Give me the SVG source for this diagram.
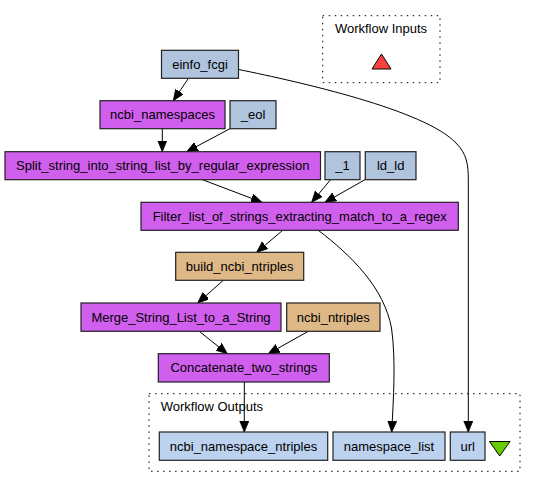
<svg xmlns="http://www.w3.org/2000/svg" width="536" height="488" viewBox="0 0 536 488">
<style>
text{font-family:"Liberation Sans",Arial,Helvetica,sans-serif;font-size:13px;fill:#000;text-anchor:middle}
.n{stroke:#222;stroke-width:1.2}
.proc{fill:#d15fee}
.const{fill:#b0c4de}
.bean{fill:#deb887}
.out{fill:#bcd2ee}
.cl{fill:none;stroke:#000;stroke-width:1;stroke-dasharray:1.5,4.5}
.e{fill:none;stroke:#000;stroke-width:1;marker-end:url(#ah)}
</style>
<defs>
<marker id="ah" markerUnits="userSpaceOnUse" markerWidth="12" markerHeight="10" refX="11" refY="4.5" orient="auto">
<path d="M0,0 L11,4.5 L0,9 z" fill="#000" stroke="#000" stroke-width="0.8"/>
</marker>
</defs>
<rect width="536" height="488" fill="#fff"/>
<g id="workflow_inputs">
<rect class="cl" x="322.7" y="15.7" width="117.3" height="67"/>
<text x="381" y="33">Workflow Inputs</text>
<polygon points="381.5,54 391,69 372,69" fill="#ff4040" stroke="#000" stroke-width="1"/>
</g>
<g id="workflow_outputs">
<rect class="cl" x="149" y="393.7" width="371" height="77.6"/>
<text x="160.7" y="410.5" style="text-anchor:start">Workflow Outputs</text>
<polygon points="489.5,441.5 510,441.5 499.7,456" fill="#66cd00" stroke="#000" stroke-width="1"/>
</g>
<g id="connectors">
<path class="e" d="M188.3,78.5 L173.3,100.7"/>
<path class="e" d="M162.3,128.7 L162.3,151.7"/>
<path class="e" d="M230,128.7 L186.7,151.7"/>
<path class="e" d="M202,179.5 L262,202.3"/>
<path class="e" d="M330.7,179.5 L311.7,202.3"/>
<path class="e" d="M365.3,179.5 L325,202.3"/>
<path class="e" d="M282.7,230.3 L256.7,252.3"/>
<path class="e" d="M223.3,280.3 L197.7,303"/>
<path class="e" d="M199.3,331.3 L227.3,353.7"/>
<path class="e" d="M308.3,331.3 L268.3,353.7"/>
<path class="e" d="M244.3,382 L244.3,432"/>
<path class="e" d="M318.3,230.3 C352,256 384,288 391.5,328 C396,360 393.5,398 391.7,432"/>
<path class="e" d="M238.7,69.5 C300,82 425,110 456,143 C467,154 468.3,165 468.3,180 L468.3,432"/>
</g>
<g id="einfo_fcgi"><rect class="n const" x="161.5" y="50.3" width="77" height="28"/><text x="200" y="68.8">einfo_fcgi</text></g>
<g id="ncbi_namespaces"><rect class="n proc" x="100" y="100.7" width="125" height="28"/><text x="162.5" y="119.2">ncbi_namespaces</text></g>
<g id="_eol"><rect class="n const" x="230" y="100.7" width="46" height="28"/><text x="253" y="119.2">_eol</text></g>
<g id="Split_string"><rect class="n proc" x="5" y="151.7" width="315.5" height="28"/><text x="162.7" y="170.2">Split_string_into_string_list_by_regular_expression</text></g>
<g id="_1"><rect class="n const" x="325" y="151.7" width="35" height="28"/><text x="342.5" y="170.2">_1</text></g>
<g id="ld_ld"><rect class="n const" x="365.3" y="151.7" width="50.7" height="28"/><text x="390.7" y="170.2">ld_ld</text></g>
<g id="Filter_list"><rect class="n proc" x="141" y="202.3" width="317.3" height="28"/><text x="299.7" y="220.8">Filter_list_of_strings_extracting_match_to_a_regex</text></g>
<g id="build_ncbi_ntriples"><rect class="n bean" x="175.7" y="252.3" width="128" height="28"/><text x="239.7" y="270.8">build_ncbi_ntriples</text></g>
<g id="Merge_String"><rect class="n proc" x="81" y="303" width="200" height="28.3"/><text x="181" y="321.6">Merge_String_List_to_a_String</text></g>
<g id="ncbi_ntriples"><rect class="n bean" x="286.7" y="303" width="93.3" height="28.3"/><text x="333.3" y="321.6">ncbi_ntriples</text></g>
<g id="Concatenate"><rect class="n proc" x="158.3" y="353.7" width="171" height="28.3"/><text x="243.8" y="372.3">Concatenate_two_strings</text></g>
<g id="ncbi_namespace_ntriples"><rect class="n out" x="159.3" y="432" width="168.4" height="28.3"/><text x="243.5" y="450.6">ncbi_namespace_ntriples</text></g>
<g id="namespace_list"><rect class="n out" x="333" y="432" width="112" height="28.3"/><text x="389" y="450.6">namespace_list</text></g>
<g id="url"><rect class="n out" x="450.3" y="432" width="34.7" height="28.3"/><text x="467.7" y="450.6">url</text></g>
</svg>
